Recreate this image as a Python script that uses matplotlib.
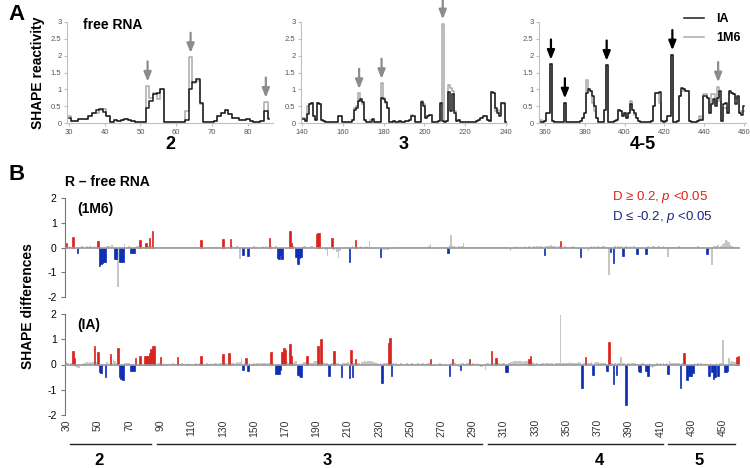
import numpy as np
import matplotlib
matplotlib.use("Agg")
import matplotlib.pyplot as plt

plt.rcParams['font.family'] = ['Liberation Sans', 'DejaVu Sans']
plt.rcParams['axes.unicode_minus'] = False
plt.rcParams['mathtext.fontset'] = 'custom'
plt.rcParams['mathtext.it'] = 'Liberation Sans:italic'
plt.rcParams['mathtext.rm'] = 'Liberation Sans'

# ---- panel A: SHAPE reactivity of free RNA (IA and 1M6), three windows
start_2 = 30
ia_2 = [.15, .05, .05, .13, .12, .12, .22, .30, .38, .42,
        .32, .20, .02, .08, .05, .10, .12, .10, .05, .02,
        .02, .02, .45, .65, .85, .90, 1.0, .02, .03, .02,
        .02, .02, .02, .10, 1.02, 1.22, 1.30, .60, .02, .02,
        .02, .05, .20, .30, .38, .28, .15, .15, .10, .10,
        .12, .05, .03, .03, .05, .35, .12]
m6_2 = [.20, .05, .05, .13, .12, .12, .22, .30, .30, .38,
        .42, .20, .02, .08, .05, .10, .12, .10, .05, .02,
        .02, .02, 1.10, .75, .88, .72, 1.0, .02, .03, .02,
        .02, .02, .02, .35, 1.95, 1.20, 1.25, .55, .02, .02,
        .02, .05, .20, .30, .38, .28, .15, .15, .10, .10,
        .12, .05, .03, .03, .05, .62, .15]

start_3 = 140
ia_3 = [.12, .12, .05, .28, .55, .58, .20, .10, .58, .55,
        .10, .05, .02, .02, .02, .02, .02, .02, .22, .22,
        .02, .02, .02, .02, .03, .10, .40, .45, .65, .70,
        .62, .10, .02, .02, .03, .12, .03, .02, .02, .75,
        .72, .62, .45, .03, .03, .05, .03, .03, .05, .03,
        .03, .05, .05, .08, .22, .20, .03, .03, .03, .62,
        .50, .15, .20, .25, .03, .03, .03, .05, .60, .05,
        .02, .05, .92, .35, .85, .30, .05, .10, .03, .02,
        .02, .02, .02, .02, .02, .03, .05, .08, .15, .22,
        .20, .10, .05, .92, .90, .45, .30, .20, .60, .60,
        .02]
m6_3 = [.15, .15, .05, .50, .55, .58, .20, .10, .58, .55,
        .10, .05, .02, .02, .02, .02, .02, .02, .22, .22,
        .02, .02, .02, .02, .03, .10, .45, .50, .88, .65,
        .55, .10, .02, .02, .10, .10, .03, .02, .02, 1.18,
        .75, .60, .45, .03, .03, .05, .03, .03, .05, .03,
        .03, .05, .05, .08, .25, .20, .03, .03, .03, .65,
        .55, .15, .20, .25, .03, .03, .03, .05, .55, 2.95,
        .02, .05, 1.12, 1.05, .95, .35, .05, .10, .03, .02,
        .02, .02, .02, .02, .02, .03, .05, .08, .15, .22,
        .20, .10, .05, .92, .90, .35, .40, .30, .60, .55,
        .02]

start_45 = 357
ia_45 = [.02, .02, .03, .05, .30, .30, 1.75, .05, .02, .02,
         .02, .02, .02, .60, .02, .02, .02, .02, .02, .02,
         .02, .05, .15, .30, .90, 1.0, .95, .80, .50, .15,
         .02, .02, .02, .40, 1.72, .02, .02, .02, .05, .10,
         .38, .35, .20, .30, .15, .30, .55, .40, .30, .15,
         .05, .02, .02, .02, .02, .02, .02, .05, .50, .90,
         .90, .92, .05, .02, .05, .20, .20, 2.03, .02, .02,
         .05, .80, 1.05, 1.0, .95, .95, .05, .02, .02, .02,
         .05, .10, .10, .80, .80, .75, .30, .55, .70, .50,
         .75, .95, .05, .55, .60, .30, .95, .90, .85, .55,
         .80, .30, .25, .50]
m6_45 = [.02, .08, .03, .05, .30, .30, 1.75, .05, .02, .02,
         .02, .02, .02, .60, .02, .02, .02, .02, .02, .02,
         .02, .05, .15, .30, 1.28, 1.0, .95, .60, .35, .15,
         .02, .02, .02, .40, 1.72, .02, .02, .02, .05, .10,
         .38, .35, .20, .30, .15, .30, .65, .40, .25, .15,
         .05, .02, .02, .02, .02, .02, .02, .05, .50, .90,
         .90, .60, .05, .02, .05, .20, .20, 2.03, .02, .02,
         .05, .80, .95, 1.0, .95, .95, .05, .02, .02, .02,
         .05, .20, .10, .85, .85, .75, .30, .85, .85, .60,
         1.08, .65, .05, .45, .45, .30, .90, .90, .85, .75,
         .75, .30, .35, .35]

arrows_2 = [52, 64, 85]
arrows_3 = [168, 179, 209]
arrows_45 = [363, 370, 391, 424, 447]
arrow_col_45 = ['k', 'k', 'k', 'k', '#8c8c8c']

# ---- panel B: SHAPE differences (R - free RNA), in hundredths, nt 30..460
start_b = 30
d_1m6 = [20, 3, 5, 2, 44, 3, -3, -23, -5, 4,           # 30
         5, 3, -4, 6, 3, 8, 4, 2, 6, 3,                # 40
         27, -75, -68, -62, -60, -58, 5, 8, 4, 10,     # 50
         3, -45, -45, -158, -60, -60, -58, 15, -5, -4, # 60
         5, -22, -22, -22, 4, 6, 5, 30, 3, 2,          # 70
         4, 20, 5, 40, 8, 68, 3, 4, 3, 2,              # 80
         3, 2, -2, 3, 2, 3, -2, 2, 3, 2,               # 90
         2, 3, -3, 2, 3, 2, -2, 2, -3, 2,              # 100
         2, 3, 2, 2, 3, 2, 30, 3, 2, -3,               # 110
         2, 3, 3, -2, 2, 3, 4, 3, 2, 3,                # 120
         36, 3, 2, 4, 3, 36, 5, 4, 3, 5,               # 130
         2, -45, -8, -30, -6, 3, -33, 4, -5, 3,        # 140
         5, 4, 3, -3, 4, 3, 5, 2, 6, 3,                # 150
         40, 5, 4, 3, 6, -42, -48, -30, -45, -5,       # 160
         -4, -6, 3, 67, 20, 5, 6, -40, -65, -42,       # 170
         -40, 4, 6, 8, -4, 3, 5, 6, 4, 3,              # 180
         55, 57, 58, -5, -8, -4, -12, -35, -6, -4,     # 190
         38, -10, -8, -20, -42, -15, -6, -4, -3, 3,    # 200
         -5, -60, 4, 5, 3, 30, 3, 4, 5, 3,             # 210
         4, 3, 5, 4, 25, -4, -6, -5, -3, 3,            # 220
         -4, -37, -5, -10, -8, -12, -10, -8, -5, -3,   # 230
         3, 4, -2, 3, 2, 4, 3, -2, 3, 2,               # 240
         3, 2, 4, 3, 2, -3, 3, 4, 2, 3,                # 250
         4, 3, 5, 15, -5, -4, -6, -3, 4, 3,            # 260
         -4, 3, 2, -5, -22, 10, 50, 5, 6, 4,           # 270
         3, 5, 4, 6, 20, 4, 3, -4, 3, 2,               # 280
         4, 3, 2, 3, -3, 4, 2, 3, 3, 2,                # 290
         3, 4, 3, 2, 4, 3, 2, 3, -3, 2,                # 300
         3, 4, 2, -5, -15, -8, 4, 3, 5, 3,             # 310
         4, 3, -4, 5, 3, 4, 6, 3, 4, 5,                # 320
         3, 5, 4, 6, 5, 4, -30, 6, 8, 5,               # 330
         10, 6, 5, 8, 4, 6, 25, 3, 4, 5,               # 340
         3, 4, 2, 3, 5, 3, 4, 3, -5, -40,              # 350
         -4, -6, -3, -5, -15, 4, 5, 3, 6, 4,           # 360
         5, 3, 4, 6, 5, 4, 3, -110, -20, -5,           # 370
         -62, 5, 4, 6, 3, 5, -35, 4, 5, 3,             # 380
         4, 6, 3, 5, 4, -28, -4, -5, -6, -3,           # 390
         -4, -25, 5, 3, 4, 6, 5, 3, 4, 5,              # 400
         3, 4, 5, 3, 4, -40, 3, 4, 2, 3,               # 410
         4, 3, 5, 2, 3, 4, 3, 2, 4, 3,                 # 420
         3, 2, 4, 3, 5, 3, -4, 2, 3, 4,                # 430
         -25, -10, -8, -70, 5, 8, 6, 10, 4, 5,         # 440
         15, 20, 30, 28, 22, 12, 5, 4, 3, 2,           # 450
         2]                                            # 460
d_ia = [10, 5, 3, 4, 52, 25, -10, -15, -15, -5,        # 30
        3, 4, 6, 8, 5, 10, 6, 8, 72, 10,               # 40
        50, -30, -35, -8, -5, -48, 10, 3, 42, 5,       # 50
        20, 15, 4, 67, -50, -58, -62, 5, 6, 4,         # 60
        5, -25, -25, -25, 25, -5, -4, 35, 4, 3,        # 70
        33, 33, 35, 45, 62, 75, 75, 5, 3, 4,           # 80
        28, 3, 4, 2, 3, 2, 3, 2, 4, 3,                 # 90
        3, 28, 3, 2, 4, 3, 2, 3, 4, 2,                 # 100
        3, -3, 2, 4, 3, 5, 33, 4, 3, 2,                # 110
        4, 3, 5, 2, 3, 4, 5, 3, 4, 6,                  # 120
        42, 4, 5, 3, 47, 6, 4, 5, 3, 8,                # 130
        5, 8, 25, -22, 6, 25, -27, 5, -4, 3,           # 140
        4, 3, 5, 6, 3, 4, 5, 6, 3, 4,                  # 150
        5, 48, 6, -5, -38, -38, -38, -20, 48, 65,      # 160
        58, 8, 6, 83, 35, 5, 10, 12, -40, -45,         # 170
        -48, 5, 8, 10, 33, 6, 5, 4, 8, 12,             # 180
        15, 75, 60, 102, 8, 5, 6, 4, -45, -8,          # 190
        6, 52, 4, 6, 5, -6, -48, 5, 4, 6,              # 200
        8, -55, 57, -50, 6, 22, 5, 4, 3, 8,            # 210
        10, 12, 10, 12, 15, 12, 10, 8, 5, 4,           # 220
        3, 5, -75, 5, 4, 5, 85, 105, -45, 4,           # 230
        3, 4, 3, 2, 4, 3, -2, 3, 4, 2,                 # 240
        3, 4, 2, -3, 3, 4, 3, 2, 4, 3,                 # 250
        3, 5, 4, 22, -4, -5, -6, -4, 3, 4,             # 260
        3, -5, -4, -3, -6, -45, 5, 22, 4, 6,           # 270
        3, -8, -22, 4, 5, 3, 6, 4, 22, 3,              # 280
        4, -5, 3, 5, -6, -8, -10, -5, -20, 4,          # 290
        5, 3, 52, 4, 6, 27, 5, 4, 3, 5,                # 300
        4, -30, -30, 5, 8, 10, 12, 14, 12, 15,         # 310
        12, 14, 10, 12, 14, 15, 22, 32, 8, 5,          # 320
        3, 4, 2, 3, 5, 4, 3, 5, 4, 3,                  # 330
        4, 5, 3, 4, 6, 5, 195, 6, 4, 5,                # 340
        6, 5, 8, 6, 4, 5, 6, 4, 8, 6,                  # 350
        -95, 5, 28, 6, 4, 5, 8, -42, 6, 10,            # 360
        8, 6, 5, 4, 6, 5, -25, 88, 6, 4,               # 370
        -78, 5, -40, 6, 4, 30, 5, 4, -160, 5,          # 380
        4, 3, 5, 4, 6, 3, -25, -30, 4, 5,              # 390
        3, -25, -45, 4, -8, -15, -10, -6, 4, 3,        # 400
        5, 3, 4, 3, 5, -38, 15, 5, 6, 4,               # 410
        5, 6, 4, -92, 5, 45, 6, -62, -45, -45,         # 420
        -45, -35, 4, 3, 5, 3, 4, 3, 2, 4,              # 430
        3, -45, 4, -30, -58, -50, 5, -45, 4, 6,        # 440
        98, -30, -28, -25, 25, 10, 12, 8, 10, 28,      # 450
        32]                                            # 460
# positions whose |D| >= 0.2 but p >= 0.05 (drawn grey)
ns_1m6 = [63, 141, 197, 203, 204, 224, 276, 284, 377, 415, 443, 451, 452, 453, 454]
ns_ia = [60, 142, 192, 298, 346, 385, 450, 454]

xticks_b = list(range(30, 451, 20))
dom_names = ["2", "3", "4", "5"]
dom_start = [32, 88, 300, 415]
dom_end = [84, 296, 412, 458]
dom_label = [51, 197, 371, 435]

RED = '#d8231b'
BLUE = '#0c2db5'
GREY = '#c6c6c6'

fig = plt.figure(figsize=(7.5, 4.68), dpi=100)


def panel_a(rect, start, ia, m6, xlim, xticks):
    ax = fig.add_axes(rect)
    x = np.arange(start, start + len(ia))
    ax.step(x, m6, where='mid', color='#a9a9a9', lw=1.1)
    ax.step(x, ia, where='mid', color='#1c1c1c', lw=1.1)
    ax.set_xlim(*xlim)
    ax.set_ylim(0, 3)
    ax.set_yticks([0, 0.5, 1, 1.5, 2, 2.5, 3])
    ax.set_yticklabels(['0', '0.5', '1', '1.5', '2', '2.5', '3'])
    ax.set_xticks(xticks)
    for s in ['top', 'right']:
        ax.spines[s].set_visible(False)
    for s in ['left', 'bottom']:
        ax.spines[s].set_color('#c0c0c0')
        ax.spines[s].set_linewidth(0.8)
    ax.tick_params(labelsize=5.5, labelcolor='#555555', color='#c0c0c0',
                   length=2, pad=2)
    return ax, x


def add_arrows(ax, x, ia, m6, positions, colors):
    for p, c in zip(positions, colors):
        i = p - x[0]
        tip = max(ia[i], m6[i]) + 0.13
        ax.annotate('', xy=(p, tip), xytext=(p, tip + 0.6),
                    annotation_clip=False,
                    arrowprops=dict(arrowstyle='-|>,head_width=0.22,head_length=0.55',
                                    lw=1.6, color=c, shrinkA=0, shrinkB=0))


axh = 101 / 468
axb = 1 - 123 / 468
a1, x1 = panel_a([67 / 750, axb, 206 / 750, axh], start_2, ia_2, m6_2,
                 (29.5, 87), range(30, 81, 10))
a2, x2 = panel_a([301 / 750, axb, 206 / 750, axh], start_3, ia_3, m6_3,
                 (139.5, 240.5), range(140, 241, 20))
a3, x3 = panel_a([539 / 750, axb, 207 / 750, axh], start_45, ia_45, m6_45,
                 (357, 461), range(360, 461, 20))
add_arrows(a1, x1, ia_2, m6_2, arrows_2, ['#8c8c8c'] * 3)
add_arrows(a2, x2, ia_3, m6_3, arrows_3, ['#8c8c8c'] * 3)
add_arrows(a3, x3, ia_45, m6_45, arrows_45, arrow_col_45)

a1.text(34, 2.9, 'free RNA', fontsize=10, fontweight='bold', va='center')
a1.set_ylabel('SHAPE reactivity', fontsize=10, fontweight='bold', labelpad=4)
for ax, lab in [(a1, '2'), (a2, '3'), (a3, '4-5')]:
    ax.text(0.5, -0.21, lab, transform=ax.transAxes, ha='center', va='center',
            fontsize=13, fontweight='bold')

h1, = a3.plot([], [], color='#1c1c1c', lw=1.1)
h2, = a3.plot([], [], color='#a9a9a9', lw=1.1)
a3.legend([h1, h2], ['IA', '1M6'], loc='upper right', bbox_to_anchor=(1.03, 1.2),
          frameon=False, prop={'weight': 'bold', 'size': 9},
          handlelength=1.6, labelspacing=0.55, handletextpad=1.0)


def panel_b(rect, d, ns, tag):
    ax = fig.add_axes(rect)
    pos = np.arange(start_b, start_b + len(d))
    val = np.array(d) / 100.0
    sig = ~np.isin(pos, ns)
    up = sig & (val >= 0.2)
    dn = sig & (val <= -0.2)
    grey = ~(up | dn)
    ax.bar(pos[grey], val[grey], width=1.0, color=GREY, lw=0)
    ax.bar(pos[up], val[up], width=1.0, color=RED, edgecolor=RED, lw=0.5)
    ax.bar(pos[dn], val[dn], width=1.0, color=BLUE, edgecolor=BLUE, lw=0.5)
    ax.axhline(0, color='#9a9a9a', lw=1.2, zorder=3)
    ax.set_xlim(29, 461)
    ax.set_ylim(-2, 2)
    ax.set_yticks([-2, -1, 0, 1, 2])
    for s in ['top', 'right', 'bottom']:
        ax.spines[s].set_visible(False)
    ax.spines['left'].set_color('#777777')
    ax.spines['left'].set_linewidth(0.8)
    ax.tick_params(axis='y', labelsize=7.5, color='#777777', length=3, pad=3)
    ax.text(37, 1.55, tag, fontsize=10, fontweight='bold', va='center')
    return ax


b1 = panel_b([65 / 750, 1 - 297 / 468, 675 / 750, 99 / 468], d_1m6, ns_1m6, '(1M6)')
b1.set_xticks([])
b2 = panel_b([65 / 750, 1 - 415 / 468, 675 / 750, 101 / 468], d_ia, ns_ia, '(IA)')
b2.set_xticks(xticks_b)
b2.set_xticklabels([str(t) for t in xticks_b], rotation=90, fontsize=7.5,
                   color='#333333')
b2.tick_params(axis='x', length=0, pad=3)

tr = b2.get_xaxis_transform()
for name, s, e, c in zip(dom_names, dom_start, dom_end, dom_label):
    b2.plot([s, e], [-0.29, -0.29], color='#222222', lw=1.0, transform=tr,
            clip_on=False)
    b2.text(c, -0.45, name, transform=tr, ha='center', va='center',
            fontsize=12, fontweight='bold')

fig.text(28 / 750, 1 - 306 / 468, 'SHAPE differences', rotation=90, ha='center',
         va='center', fontsize=10, fontweight='bold')
fig.text(65 / 750, 1 - 182 / 468, 'R \u2013 free RNA', fontsize=10,
         fontweight='bold', va='center')
fig.text(612 / 750, 1 - 197 / 468, 'D \u2265 0.2, $\\it{p}$ <0.05',
         color='#e3201b', fontsize=9.5, va='center')
fig.text(612 / 750, 1 - 217 / 468, 'D \u2264 -0.2, $\\it{p}$ <0.05',
         color='#1a2380', fontsize=9.5, va='center')

fig.text(8 / 750, 1 - 15 / 468, 'A', fontsize=16, fontweight='bold', va='center')
fig.text(8 / 750, 1 - 175 / 468, 'B', fontsize=16, fontweight='bold', va='center')

fig.savefig('out.png', dpi=100)
